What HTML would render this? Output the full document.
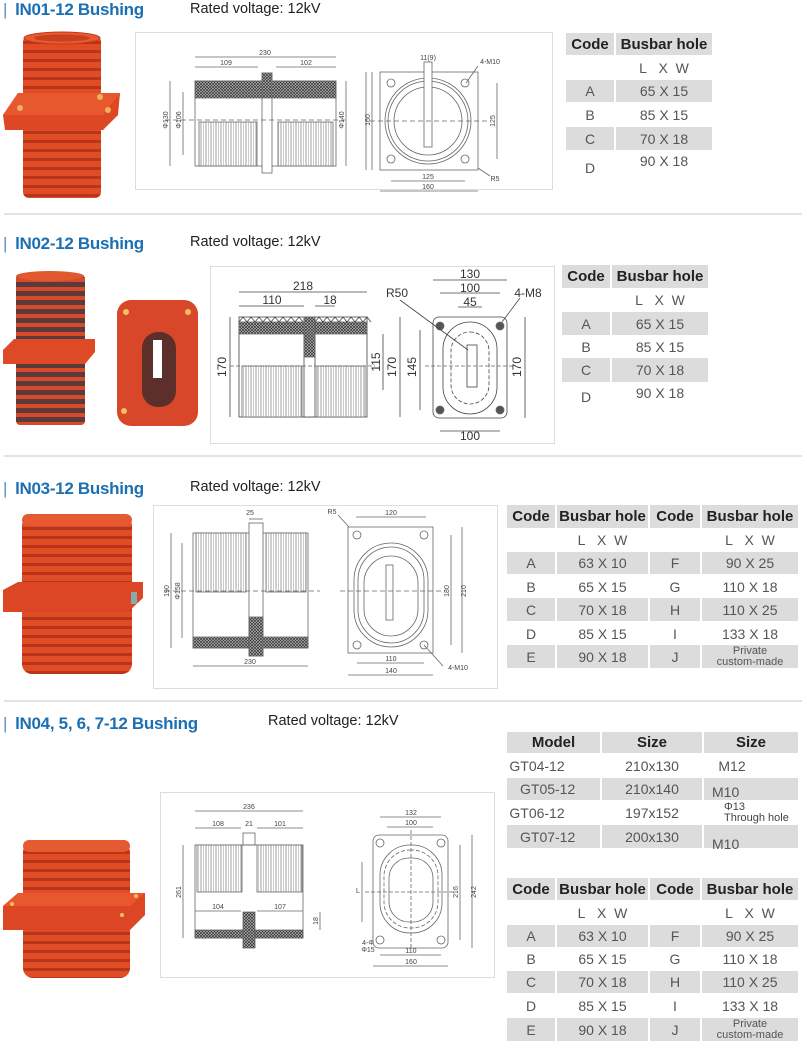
<!DOCTYPE html>
<html><head><meta charset="utf-8"><style>
html,body{margin:0;padding:0;background:#fff;}
body{width:807px;height:1052px;position:relative;overflow:hidden;font-family:"Liberation Sans",sans-serif;}
.t{position:absolute;font-weight:bold;color:#1b6fb3;font-size:17px;white-space:nowrap;letter-spacing:-0.3px}
.t b{color:#5a8fc4;font-weight:normal;margin-right:8px}
.rv{position:absolute;font-size:14.5px;color:#222;white-space:nowrap}
.sep{position:absolute;left:4px;width:798px;height:2px;background:#e2e2e2}
.box{position:absolute;border:1px solid #ddd;background:#fff}
.c{position:absolute;display:flex;align-items:center;justify-content:center;font-size:14px;color:#555;white-space:nowrap}
.g{background:#dcdcdc}
.h{font-weight:bold;color:#222;font-size:15px}
.sm{font-size:11px;line-height:11px;text-align:center;flex-direction:column}
svg{position:absolute;left:0;top:0}
</style></head><body>

<div class="t" style="left:3px;top:0px"><b>|</b>lN01-12 Bushing</div>
<div class="rv" style="left:190px;top:1px">Rated voltage: 12kV</div>
<div class="sep" style="top:213px"></div>
<div class="t" style="left:3px;top:234px"><b>|</b>lN02-12 Bushing</div>
<div class="rv" style="left:190px;top:234px">Rated voltage: 12kV</div>
<div class="sep" style="top:455px"></div>
<div class="t" style="left:3px;top:479px"><b>|</b>lN03-12 Bushing</div>
<div class="rv" style="left:190px;top:479px">Rated voltage: 12kV</div>
<div class="sep" style="top:700px"></div>
<div class="t" style="left:3px;top:714px"><b>|</b>lN04, 5, 6, 7-12 Bushing</div>
<div class="rv" style="left:268px;top:713px">Rated voltage: 12kV</div>

<div class="box" style="left:135px;top:32px;width:416px;height:156px"></div>
<div class="box" style="left:210px;top:266px;width:343px;height:176px"></div>
<div class="box" style="left:153px;top:505px;width:343px;height:182px"></div>
<div class="box" style="left:160px;top:792px;width:333px;height:184px"></div>

<!-- Table 1 -->
<div class="c g h" style="left:566px;top:33px;width:48px;height:22px">Code</div>
<div class="c g h" style="left:616px;top:33px;width:96px;height:22px">Busbar hole</div>
<div class="c" style="left:616px;top:57px;width:96px;height:22px">L&nbsp;&nbsp;&nbsp;X&nbsp;&nbsp;W</div>
<div class="c g" style="left:566px;top:80px;width:48px;height:22px">A</div><div class="c g" style="left:616px;top:80px;width:96px;height:22px">65 X 15</div>
<div class="c" style="left:566px;top:104px;width:48px;height:22px">B</div><div class="c" style="left:616px;top:104px;width:96px;height:22px">85 X 15</div>
<div class="c g" style="left:566px;top:127px;width:48px;height:23px">C</div><div class="c g" style="left:616px;top:127px;width:96px;height:23px">70 X 18</div>
<div class="c" style="left:566px;top:157px;width:48px;height:22px">D</div><div class="c" style="left:616px;top:150px;width:96px;height:22px">90 X 18</div>

<!-- Table 2 -->
<div class="c g h" style="left:562px;top:265px;width:48px;height:23px">Code</div>
<div class="c g h" style="left:612px;top:265px;width:96px;height:23px">Busbar hole</div>
<div class="c" style="left:612px;top:289px;width:96px;height:22px">L&nbsp;&nbsp;&nbsp;X&nbsp;&nbsp;W</div>
<div class="c g" style="left:562px;top:312px;width:48px;height:23px">A</div><div class="c g" style="left:612px;top:312px;width:96px;height:23px">65 X 15</div>
<div class="c" style="left:562px;top:335px;width:48px;height:23px">B</div><div class="c" style="left:612px;top:335px;width:96px;height:23px">85 X 15</div>
<div class="c g" style="left:562px;top:358px;width:48px;height:24px">C</div><div class="c g" style="left:612px;top:358px;width:96px;height:24px">70 X 18</div>
<div class="c" style="left:562px;top:386px;width:48px;height:22px">D</div><div class="c" style="left:612px;top:382px;width:96px;height:22px">90 X 18</div>

<!-- Table 3 -->
<div class="c g h" style="left:507px;top:505px;width:48px;height:23px">Code</div>
<div class="c g h" style="left:557px;top:505px;width:91px;height:23px">Busbar hole</div>
<div class="c g h" style="left:650px;top:505px;width:50px;height:23px">Code</div>
<div class="c g h" style="left:702px;top:505px;width:96px;height:23px">Busbar hole</div>
<div class="c" style="left:557px;top:530px;width:91px;height:20px">L&nbsp;&nbsp;&nbsp;X&nbsp;&nbsp;W</div>
<div class="c" style="left:702px;top:530px;width:96px;height:20px">L&nbsp;&nbsp;&nbsp;X&nbsp;&nbsp;W</div>
<div class="c g" style="left:507px;top:552px;width:48px;height:22px">A</div><div class="c g" style="left:557px;top:552px;width:91px;height:22px">63 X 10</div><div class="c g" style="left:650px;top:552px;width:50px;height:22px">F</div><div class="c g" style="left:702px;top:552px;width:96px;height:22px">90 X 25</div>
<div class="c" style="left:507px;top:575px;width:48px;height:23px">B</div><div class="c" style="left:557px;top:575px;width:91px;height:23px">65 X 15</div><div class="c" style="left:650px;top:575px;width:50px;height:23px">G</div><div class="c" style="left:702px;top:575px;width:96px;height:23px">110 X 18</div>
<div class="c g" style="left:507px;top:598px;width:48px;height:23px">C</div><div class="c g" style="left:557px;top:598px;width:91px;height:23px">70 X 18</div><div class="c g" style="left:650px;top:598px;width:50px;height:23px">H</div><div class="c g" style="left:702px;top:598px;width:96px;height:23px">110 X 25</div>
<div class="c" style="left:507px;top:622px;width:48px;height:23px">D</div><div class="c" style="left:557px;top:622px;width:91px;height:23px">85 X 15</div><div class="c" style="left:650px;top:622px;width:50px;height:23px">I</div><div class="c" style="left:702px;top:622px;width:96px;height:23px">133 X 18</div>
<div class="c g" style="left:507px;top:645px;width:48px;height:23px">E</div><div class="c g" style="left:557px;top:645px;width:91px;height:23px">90 X 18</div><div class="c g" style="left:650px;top:645px;width:50px;height:23px">J</div><div class="c g sm" style="left:702px;top:645px;width:96px;height:23px"><span>Private</span><span>custom-made</span></div>

<!-- Model table -->
<div class="c g h" style="left:507px;top:732px;width:93px;height:21px">Model</div>
<div class="c g h" style="left:602px;top:732px;width:100px;height:21px">Size</div>
<div class="c g h" style="left:704px;top:732px;width:94px;height:21px">Size</div>
<div class="c" style="left:507px;top:755px;width:60px;height:22px">GT04-12</div><div class="c" style="left:602px;top:755px;width:100px;height:22px">210x130</div><div class="c" style="left:712px;top:755px;width:40px;height:22px">M12</div>
<div class="c g" style="left:507px;top:778px;width:93px;height:22px;justify-content:flex-start"><span style="padding-left:13px">GT05-12</span></div><div class="c g" style="left:602px;top:778px;width:100px;height:22px">210x140</div><div class="c g" style="left:704px;top:778px;width:94px;height:22px;justify-content:flex-start;padding-top:6px;box-sizing:border-box"><span style="padding-left:8px">M10</span></div>
<div class="c" style="left:507px;top:801px;width:60px;height:23px">GT06-12</div><div class="c" style="left:602px;top:801px;width:100px;height:23px">197x152</div><div class="c sm" style="left:704px;top:801px;width:94px;height:23px;align-items:flex-start;padding-left:20px;box-sizing:border-box;color:#444"><span>Φ13</span><span>Through hole</span></div>
<div class="c g" style="left:507px;top:825px;width:93px;height:23px;justify-content:flex-start"><span style="padding-left:13px">GT07-12</span></div><div class="c g" style="left:602px;top:825px;width:100px;height:23px">200x130</div><div class="c g" style="left:704px;top:825px;width:94px;height:23px;justify-content:flex-start;padding-top:14px;box-sizing:border-box"><span style="padding-left:8px">M10</span></div>

<!-- Table 4 -->
<div class="c g h" style="left:507px;top:878px;width:48px;height:22px">Code</div>
<div class="c g h" style="left:557px;top:878px;width:91px;height:22px">Busbar hole</div>
<div class="c g h" style="left:650px;top:878px;width:50px;height:22px">Code</div>
<div class="c g h" style="left:702px;top:878px;width:96px;height:22px">Busbar hole</div>
<div class="c" style="left:557px;top:902px;width:91px;height:21px">L&nbsp;&nbsp;&nbsp;X&nbsp;&nbsp;W</div>
<div class="c" style="left:702px;top:902px;width:96px;height:21px">L&nbsp;&nbsp;&nbsp;X&nbsp;&nbsp;W</div>
<div class="c g" style="left:507px;top:925px;width:48px;height:22px">A</div><div class="c g" style="left:557px;top:925px;width:91px;height:22px">63 X 10</div><div class="c g" style="left:650px;top:925px;width:50px;height:22px">F</div><div class="c g" style="left:702px;top:925px;width:96px;height:22px">90 X 25</div>
<div class="c" style="left:507px;top:948px;width:48px;height:22px">B</div><div class="c" style="left:557px;top:948px;width:91px;height:22px">65 X 15</div><div class="c" style="left:650px;top:948px;width:50px;height:22px">G</div><div class="c" style="left:702px;top:948px;width:96px;height:22px">110 X 18</div>
<div class="c g" style="left:507px;top:971px;width:48px;height:22px">C</div><div class="c g" style="left:557px;top:971px;width:91px;height:22px">70 X 18</div><div class="c g" style="left:650px;top:971px;width:50px;height:22px">H</div><div class="c g" style="left:702px;top:971px;width:96px;height:22px">110 X 25</div>
<div class="c" style="left:507px;top:995px;width:48px;height:22px">D</div><div class="c" style="left:557px;top:995px;width:91px;height:22px">85 X 15</div><div class="c" style="left:650px;top:995px;width:50px;height:22px">I</div><div class="c" style="left:702px;top:995px;width:96px;height:22px">133 X 18</div>
<div class="c g" style="left:507px;top:1018px;width:48px;height:23px">E</div><div class="c g" style="left:557px;top:1018px;width:91px;height:23px">90 X 18</div><div class="c g" style="left:650px;top:1018px;width:50px;height:23px">J</div><div class="c g sm" style="left:702px;top:1018px;width:96px;height:23px"><span>Private</span><span>custom-made</span></div>

<svg width="807" height="1052" viewBox="0 0 807 1052">
<defs>
<pattern id="rib" width="9" height="9" patternUnits="userSpaceOnUse"><rect width="9" height="9" fill="#e04d25"/><rect y="5" width="9" height="3" fill="#b8341a"/></pattern>
<pattern id="rib2" width="9" height="9" patternUnits="userSpaceOnUse"><rect width="9" height="9" fill="#d8492a"/><rect y="3" width="9" height="5" fill="#5a3a3a"/></pattern>
<pattern id="vr" width="5" height="10" patternUnits="userSpaceOnUse"><rect width="5" height="10" fill="#fff"/><line x1="1" y1="0" x2="1" y2="10" stroke="#777" stroke-width="0.7"/><line x1="3.5" y1="0" x2="3.5" y2="10" stroke="#aaa" stroke-width="0.6"/></pattern>
<pattern id="hx" width="3" height="3" patternUnits="userSpaceOnUse"><rect width="3" height="3" fill="#bbb"/><path d="M0 0L3 3M3 0L0 3" stroke="#333" stroke-width="0.7"/></pattern>
</defs>

<!-- Bushing 1 -->
<rect x="23" y="36" width="78" height="162" rx="6" fill="url(#rib)"/>
<ellipse cx="62" cy="38" rx="38" ry="6" fill="#e85a30" stroke="#c03a1c"/>
<ellipse cx="62" cy="38" rx="28" ry="3.5" fill="#c84020"/>
<polygon points="3,115 18,93 120,93 118,115 103,130 5,130" fill="#dd4723"/>
<polygon points="3,115 18,93 120,93 103,115" fill="#e8582f"/>
<circle cx="20" cy="108" r="3" fill="#f0b060"/><circle cx="100" cy="97" r="3" fill="#f0b060"/><circle cx="108" cy="110" r="3" fill="#f0b060"/>

<!-- Bushing 2 -->
<rect x="16" y="275" width="69" height="150" rx="4" fill="url(#rib2)"/>
<ellipse cx="50" cy="276" rx="34" ry="5" fill="#e05a30"/>
<polygon points="3,350 14,339 95,339 95,352 85,364 3,364" fill="#dd4a25"/>
<rect x="117" y="300" width="81" height="126" rx="14" fill="#d9472a"/>
<rect x="142" y="332" width="34" height="75" rx="16" fill="#5d2f2a"/>
<rect x="153" y="340" width="9" height="38" fill="#fff"/>
<circle cx="126" cy="312" r="3" fill="#f0c060"/><circle cx="188" cy="312" r="3" fill="#f0c060"/><circle cx="124" cy="411" r="3" fill="#f0c060"/>

<!-- Bushing 3 -->
<rect x="22" y="516" width="110" height="158" rx="10" fill="url(#rib)"/>
<rect x="22" y="514" width="110" height="12" rx="6" fill="#e55a30"/>
<polygon points="3,590 18,582 143,582 143,598 128,612 3,612" fill="#dc4624"/>
<rect x="131" y="592" width="6" height="12" fill="#8aa"/>

<!-- Bushing 4 -->
<rect x="23" y="842" width="107" height="136" rx="10" fill="url(#rib)"/>
<rect x="23" y="840" width="107" height="12" rx="6" fill="#e55a30"/>
<polygon points="3,906 18,893 145,893 145,915 130,930 3,930" fill="#dc4624"/>
<polygon points="3,906 18,893 145,893 130,906" fill="#e8582f"/>
<circle cx="12" cy="904" r="2" fill="#f0c060"/><circle cx="136" cy="896" r="2" fill="#f0c060"/><circle cx="122" cy="915" r="2" fill="#f0c060"/>

<g fill="none" stroke="#666" stroke-width="0.8" font-family="Liberation Mono, monospace" font-size="7">
<!-- Drawing 1 side -->
<rect x="195" y="81" width="141" height="85"/>
<rect x="195" y="81" width="67" height="17" fill="url(#hx)"/>
<rect x="272" y="81" width="64" height="17" fill="url(#hx)"/>
<rect x="262" y="73" width="10" height="100" fill="#fff"/>
<rect x="262" y="73" width="10" height="25" fill="url(#hx)"/>
<rect x="199" y="122" width="58" height="44" fill="url(#vr)"/>
<rect x="278" y="122" width="55" height="44" fill="url(#vr)"/>
<line x1="165" y1="120" x2="345" y2="120" stroke-dasharray="5 3"/>
<line x1="195" y1="57" x2="336" y2="57"/><line x1="195" y1="67" x2="258" y2="67"/><line x1="276" y1="67" x2="336" y2="67"/>
<line x1="170" y1="81" x2="170" y2="166"/><line x1="183" y1="92" x2="183" y2="155"/><line x1="346" y1="81" x2="346" y2="166"/><line x1="366" y1="72" x2="366" y2="170"/>
<!-- Drawing 1 front -->
<rect x="380" y="72" width="98" height="98"/>
<circle cx="428" cy="121" r="43"/><circle cx="428" cy="121" r="40"/><circle cx="428" cy="121" r="34"/>
<rect x="424" y="62" width="8" height="85" fill="#fff"/>
<circle cx="391" cy="83" r="4"/><circle cx="465" cy="83" r="4"/><circle cx="391" cy="159" r="4"/><circle cx="465" cy="159" r="4"/>
<line x1="370" y1="121" x2="488" y2="121" stroke-dasharray="5 3"/>
<line x1="391" y1="181" x2="465" y2="181"/><line x1="380" y1="191" x2="478" y2="191"/>
<line x1="497" y1="83" x2="497" y2="159"/><line x1="372" y1="72" x2="372" y2="170"/>
<line x1="466" y1="83" x2="478" y2="66"/><line x1="478" y1="168" x2="490" y2="176"/>

<!-- Drawing 2 side -->
<rect x="239" y="317" width="128" height="100" stroke="#444"/>
<rect x="239" y="322" width="128" height="12" fill="url(#hx)"/>
<path d="M239 322 l4 -5 l4 5 l4 -5 l4 5 l4 -5 l4 5 l4 -5 l4 5 l4 -5 l4 5 l4 -5 l4 5 l4 -5 l4 5 l4 -5 l4 5" stroke="#444"/>
<path d="M315 322 l4 -5 l4 5 l4 -5 l4 5 l4 -5 l4 5 l4 -5 l4 5 l4 -5 l4 5 l4 -5 l4 5 l4 -5 l4 5" stroke="#444"/>
<rect x="304" y="317" width="11" height="100" fill="#fff" stroke="#444"/>
<rect x="304" y="317" width="11" height="40" fill="url(#hx)"/>
<rect x="242" y="366" width="60" height="51" fill="url(#vr)"/>
<rect x="317" y="366" width="48" height="51" fill="url(#vr)"/>
<line x1="230" y1="366" x2="375" y2="366" stroke-dasharray="4 2"/>
<line x1="239" y1="292" x2="367" y2="292" stroke="#444"/><line x1="239" y1="306" x2="304" y2="306" stroke="#444"/><line x1="315" y1="306" x2="335" y2="306" stroke="#444"/>
<line x1="230" y1="317" x2="230" y2="417" stroke="#444"/><line x1="383" y1="334" x2="383" y2="390" stroke="#444"/><line x1="400" y1="317" x2="400" y2="417" stroke="#444"/>
<!-- Drawing 2 front -->
<rect x="433" y="317" width="74" height="101" rx="6" stroke="#444"/>
<rect x="443" y="322" width="54" height="92" rx="27" stroke="#444"/>
<rect x="451" y="332" width="38" height="72" rx="19" stroke="#444" stroke-dasharray="4 2"/>
<rect x="467" y="345" width="10" height="42" stroke="#444"/>
<circle cx="440" cy="326" r="4" fill="#555"/><circle cx="500" cy="326" r="4" fill="#555"/><circle cx="440" cy="410" r="4" fill="#555"/><circle cx="500" cy="410" r="4" fill="#555"/>
<line x1="425" y1="366" x2="515" y2="366" stroke-dasharray="4 2"/>
<line x1="433" y1="280" x2="507" y2="280" stroke="#444"/><line x1="440" y1="293" x2="500" y2="293" stroke="#444"/><line x1="458" y1="307" x2="482" y2="307" stroke="#444"/><line x1="440" y1="431" x2="500" y2="431" stroke="#444"/>
<line x1="420" y1="330" x2="420" y2="410" stroke="#444"/><line x1="525" y1="317" x2="525" y2="418" stroke="#444"/>
<line x1="400" y1="300" x2="468" y2="350" stroke="#444"/><line x1="520" y1="298" x2="502" y2="322" stroke="#444"/>

<!-- Drawing 3 side -->
<rect x="193" y="533" width="115" height="115"/>
<rect x="196" y="533" width="50" height="59" fill="url(#vr)"/>
<rect x="266" y="533" width="40" height="59" fill="url(#vr)"/>
<rect x="193" y="637" width="115" height="11" fill="url(#hx)"/>
<rect x="249" y="523" width="14" height="133" fill="#fff"/>
<rect x="249" y="617" width="14" height="39" fill="url(#hx)"/>
<line x1="165" y1="591" x2="320" y2="591" stroke-dasharray="5 3"/>
<line x1="171" y1="533" x2="171" y2="648"/><line x1="182" y1="543" x2="182" y2="638"/>
<line x1="193" y1="666" x2="308" y2="666"/><line x1="249" y1="519" x2="263" y2="519"/>
<!-- Drawing 3 front -->
<rect x="348" y="527" width="85" height="126"/>
<rect x="354" y="543" width="74" height="104" rx="37"/>
<rect x="358" y="547" width="66" height="96" rx="33"/>
<rect x="364" y="556" width="54" height="80" rx="27"/>
<rect x="386" y="565" width="7" height="55" fill="#fff"/>
<circle cx="357" cy="535" r="4"/><circle cx="424" cy="535" r="4"/><circle cx="357" cy="645" r="4"/><circle cx="424" cy="645" r="4"/>
<line x1="340" y1="591" x2="445" y2="591" stroke-dasharray="5 3"/>
<line x1="356" y1="517" x2="426" y2="517"/><line x1="357" y1="663" x2="424" y2="663"/><line x1="348" y1="675" x2="433" y2="675"/>
<line x1="451" y1="535" x2="451" y2="645"/><line x1="462" y1="527" x2="462" y2="653"/>
<line x1="338" y1="515" x2="349" y2="527"/><line x1="424" y1="645" x2="443" y2="666"/>

<!-- Drawing 4 side -->
<rect x="195" y="845" width="108" height="93"/>
<rect x="197" y="845" width="45" height="47" fill="url(#vr)"/>
<rect x="257" y="845" width="45" height="47" fill="url(#vr)"/>
<rect x="243" y="833" width="12" height="12"/>
<rect x="195" y="930" width="108" height="8" fill="url(#hx)"/>
<rect x="243" y="912" width="12" height="36" fill="url(#hx)"/>
<line x1="195" y1="811" x2="303" y2="811"/><line x1="195" y1="828" x2="241" y2="828"/><line x1="257" y1="828" x2="303" y2="828"/>
<line x1="195" y1="911" x2="241" y2="911"/><line x1="257" y1="911" x2="303" y2="911"/>
<line x1="183" y1="845" x2="183" y2="938"/><line x1="320" y1="912" x2="320" y2="930"/>
<!-- Drawing 4 front -->
<rect x="373" y="835" width="75" height="113" rx="6"/>
<rect x="380" y="845" width="62" height="88" rx="30"/>
<rect x="384" y="850" width="54" height="78" rx="26" stroke-dasharray="4 2"/>
<rect x="389" y="858" width="44" height="64" rx="20"/>
<circle cx="380" cy="843" r="4"/><circle cx="441" cy="843" r="4"/><circle cx="380" cy="940" r="4"/><circle cx="441" cy="940" r="4"/>
<line x1="365" y1="892" x2="455" y2="892" stroke-dasharray="4 2"/><line x1="411" y1="830" x2="411" y2="950" stroke-dasharray="4 2"/>
<line x1="380" y1="817" x2="441" y2="817"/><line x1="387" y1="827" x2="433" y2="827"/><line x1="380" y1="955" x2="441" y2="955"/><line x1="373" y1="966" x2="448" y2="966"/>
<line x1="460" y1="845" x2="460" y2="940"/><line x1="472" y1="835" x2="472" y2="948"/><line x1="362" y1="862" x2="362" y2="922"/>
</g>

<g fill="#444" font-family="Liberation Sans, sans-serif" font-size="7" text-anchor="middle">
<text x="265" y="55">230</text><text x="226" y="65">109</text><text x="306" y="65">102</text>
<text x="428" y="60">11(9)</text><text x="490" y="64">4-M10</text><text x="495" y="181">R5</text>
<text x="428" y="179">125</text><text x="428" y="189">160</text>
<text transform="translate(168,120) rotate(-90)">Φ130</text><text transform="translate(181,120) rotate(-90)">Φ106</text>
<text transform="translate(344,120) rotate(-90)">Φ140</text><text transform="translate(370,120) rotate(-90)">160</text>
<text transform="translate(495,121) rotate(-90)">125</text>
<text x="250" y="515">25</text><text x="250" y="664">230</text><text x="332" y="514">R5</text>
<text x="391" y="515">120</text><text x="391" y="661">110</text><text x="391" y="673">140</text><text x="458" y="670">4-M10</text>
<text transform="translate(169,591) rotate(-90)">190</text><text transform="translate(180,591) rotate(-90)">Φ158</text>
<text transform="translate(449,591) rotate(-90)">180</text><text transform="translate(466,591) rotate(-90)">210</text>
<text x="249" y="809">236</text><text x="218" y="826">108</text><text x="249" y="826">21</text><text x="280" y="826">101</text>
<text x="218" y="909">104</text><text x="280" y="909">107</text>
<text x="411" y="815">132</text><text x="411" y="825">100</text><text x="411" y="953">110</text><text x="411" y="964">160</text>
<text transform="translate(181,892) rotate(-90)">261</text><text transform="translate(318,921) rotate(-90)">18</text>
<text transform="translate(458,892) rotate(-90)">216</text><text transform="translate(476,892) rotate(-90)">242</text>
<text x="358" y="893">L</text><text x="368" y="945">4-Φ</text><text x="368" y="952">Φ15</text>
</g>
<g fill="#333" font-family="Liberation Sans, sans-serif" font-size="12" text-anchor="middle">
<text x="303" y="290">218</text><text x="272" y="304">110</text><text x="330" y="304">18</text>
<text x="470" y="278">130</text><text x="470" y="292">100</text><text x="470" y="306">45</text><text x="470" y="440">100</text>
<text x="397" y="297">R50</text><text x="528" y="297">4-M8</text>
<text transform="translate(226,367) rotate(-90)">170</text><text transform="translate(380,362) rotate(-90)">115</text>
<text transform="translate(396,367) rotate(-90)">170</text><text transform="translate(416,367) rotate(-90)">145</text>
<text transform="translate(521,367) rotate(-90)">170</text>
</g>
</svg>
</body></html>
